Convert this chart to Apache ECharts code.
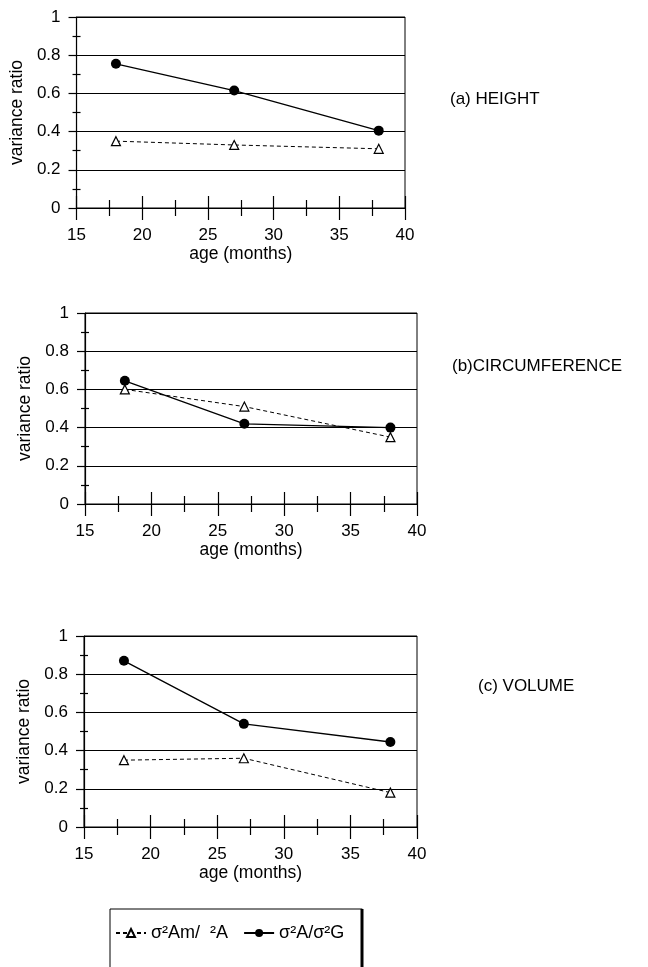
<!DOCTYPE html>
<html>
<head>
<meta charset="utf-8">
<script src="https://cdn.jsdelivr.net/npm/echarts@6/dist/echarts.min.js"></script>
<style>
    html, body { margin: 0; padding: 0; background: #fff; }
    #chart { width: 648px; height: 967px; }
</style>
</head>
<body>
<div id="chart"></div>
<script>
// ages at which the ratios were measured
const ages = [18, 27, 38];

// (a) HEIGHT
const heightAdd = [0.755, 0.615, 0.405];   // σ²A/σ²G
const heightAm = [0.35, 0.33, 0.31];       // σ²Am/ ²A
// (b) CIRCUMFERENCE
const circAdd = [0.645, 0.42, 0.40];
const circAm = [0.60, 0.51, 0.35];
// (c) VOLUME
const volAdd = [0.87, 0.54, 0.445];
const volAm = [0.35, 0.36, 0.18];

const panelTitles = ["(a) HEIGHT", "(b)CIRCUMFERENCE", "(c) VOLUME"];
const nameAm = "σ²Am/  ²A";
const nameAdd = "σ²A/σ²G";

const font = "Liberation Sans, Arial, sans-serif";

// grid boxes of the three panels (scan is slightly skewed, so they differ a bit)
const grids = [
    { left: 74, top: 17, width: 331, height: 191 },
    { left: 85, top: 313, width: 332, height: 191 },
    { left: 84, top: 636, width: 333, height: 191 },
];
const yNameGaps = [45, 41, 40];

const xAxes = [];
const yAxes = [];
grids.forEach((g, i) => {
    // main x axis: labels, ticks below the line
    xAxes.push({
        gridIndex: i, type: "value", position: "bottom", min: 15, max: 40, interval: 5,
        name: "age (months)", nameLocation: "middle", nameGap: 37,
        nameTextStyle: { fontFamily: font, fontSize: 17.5, color: "#000" },
        axisLine: { lineStyle: { color: "#000", width: 1.2 } },
        axisTick: { length: 12, lineStyle: { color: "#000", width: 1.2 } },
        minorTick: { show: true, splitNumber: 2, length: 8, lineStyle: { color: "#000", width: 1.2 } },
        axisLabel: { margin: 19, fontFamily: font, fontSize: 17, color: "#000" },
        splitLine: { show: false },
    });
    // twin x axis: only the tick halves above the line
    xAxes.push({
        gridIndex: i, type: "value", position: "bottom", min: 15, max: 40, interval: 5,
        axisLine: { show: false },
        axisTick: { inside: true, length: 12, lineStyle: { color: "#000", width: 1.2 } },
        minorTick: { show: true, splitNumber: 2, length: 8, lineStyle: { color: "#000", width: 1.2 } },
        axisLabel: { show: false },
        splitLine: { show: false },
    });
    yAxes.push({
        gridIndex: i, type: "value", position: "left", min: 0, max: 1, interval: 0.2,
        name: "variance ratio", nameLocation: "middle", nameGap: yNameGaps[i],
        nameTextStyle: { fontFamily: font, fontSize: 17.5, color: "#000" },
        axisLine: { show: true, lineStyle: { color: "#000", width: 1.2 } },
        axisTick: { show: true, length: 8, lineStyle: { color: "#000", width: 1.2 } },
        minorTick: { show: true, splitNumber: 2, length: 4, lineStyle: { color: "#000", width: 1.2 } },
        axisLabel: { margin: 16, fontFamily: font, fontSize: 17, color: "#000" },
        splitLine: { show: true, lineStyle: { color: "#000", width: 1 } },
    });
    yAxes.push({
        gridIndex: i, type: "value", position: "left", min: 0, max: 1, interval: 0.2,
        axisLine: { show: false },
        axisTick: { show: false, inside: true },
        minorTick: { show: true, splitNumber: 2, length: 4, lineStyle: { color: "#000", width: 1.2 } },
        axisLabel: { show: false },
        splitLine: { show: false },
    });
});

const pairs = (ys) => ages.map((a, k) => [a, ys[k]]);

const amSeries = (i, ys) => ({
    name: nameAm, type: "line", xAxisIndex: i * 2, yAxisIndex: i * 2,
    data: pairs(ys), symbol: "triangle", symbolSize: 9,
    lineStyle: { color: "#000", width: 1, type: [4, 3] },
    itemStyle: { color: "#fff", borderColor: "#000", borderWidth: 1.2 },
    z: 3,
});
const addSeries = (i, ys) => ({
    name: nameAdd, type: "line", xAxisIndex: i * 2, yAxisIndex: i * 2,
    data: pairs(ys), symbol: "circle", symbolSize: 10,
    lineStyle: { color: "#000", width: 1.3 },
    itemStyle: { color: "#000" },
    z: 4,
});

const chart = echarts.init(document.getElementById("chart"));
chart.setOption({
    animation: false,
    backgroundColor: "#fff",
    title: [
        { text: panelTitles[0], left: 450, top: 91 },
        { text: panelTitles[1], left: 452, top: 358 },
        { text: panelTitles[2], left: 478, top: 678 },
    ].map(t => Object.assign(t, {
        padding: 0,
        textStyle: { fontFamily: font, fontSize: 17, fontWeight: "normal", color: "#000" },
    })),
    grid: grids.map(g => Object.assign({ show: true, borderColor: "#000", borderWidth: 1 }, g)),
    xAxis: xAxes,
    yAxis: yAxes,
    legend: {
        data: [nameAm, nameAdd],
        left: 110, top: 909,
        padding: [15, 18, 40, 5],
        itemWidth: 30, itemHeight: 10, itemGap: 15,
        borderColor: "#000", borderWidth: 1,
        backgroundColor: "#fff",
        textStyle: { fontFamily: font, fontSize: 18, color: "#000" },
    },
    // heavier right edge of the legend frame
    graphic: [{
        type: "line", z: 100,
        shape: { x1: 362, y1: 909, x2: 362, y2: 967 },
        style: { stroke: "#000", lineWidth: 3 },
    }],
    series: [
        amSeries(0, heightAm), addSeries(0, heightAdd),
        amSeries(1, circAm), addSeries(1, circAdd),
        amSeries(2, volAm), addSeries(2, volAdd),
    ],
});
</script>
</body>
</html>
